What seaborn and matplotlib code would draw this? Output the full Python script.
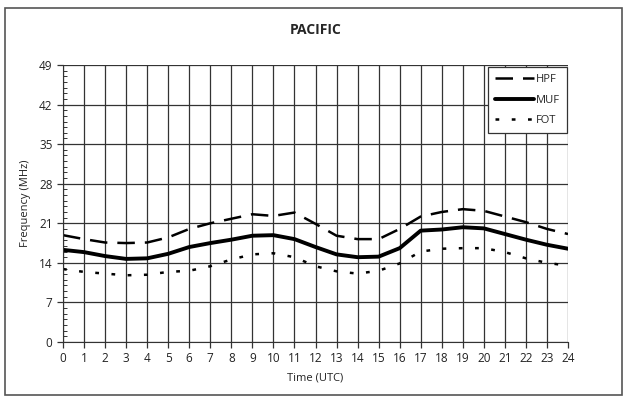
import matplotlib.pyplot as plt
from matplotlib.patches import Rectangle
import numpy as np
import pandas as pd
import seaborn as sns

# values
hours = list(range(25))
hpf = [18.9, 18.2, 17.6, 17.5, 17.6, 18.5, 20.0, 21.0, 21.8, 22.6, 22.3, 22.9, 20.9,
       18.8, 18.2, 18.2, 20.0, 22.2, 23.0, 23.5, 23.2, 22.2, 21.2, 20.0, 19.1]
muf = [16.3, 15.9, 15.2, 14.7, 14.8, 15.6, 16.8, 17.5, 18.1, 18.8, 18.9, 18.2, 16.8,
       15.5, 15.0, 15.1, 16.6, 19.7, 19.9, 20.3, 20.1, 19.1, 18.1, 17.2, 16.5]
fot = [12.9, 12.4, 12.1, 11.8, 11.9, 12.4, 12.6, 13.4, 14.6, 15.5, 15.7, 15.0, 13.4,
       12.5, 12.1, 12.6, 13.9, 16.0, 16.5, 16.6, 16.6, 15.9, 14.8, 14.0, 13.5]

sns.set_style("white")
plt.rcParams['font.family'] = ['Open Sans', 'DejaVu Sans']

fig = plt.figure(figsize=(6.28, 4.0), dpi=100)
ax = fig.add_axes([0.1003, 0.145, 0.8042, 0.6925])

df = pd.DataFrame({'Time': hours, 'HPF': hpf, 'MUF': muf, 'FOT': fot})
sns.lineplot(data=df, x='Time', y='HPF', ax=ax, color='black', lw=1.8,
             label='HPF').lines[-1].set_dashes([7, 4])
sns.lineplot(data=df, x='Time', y='MUF', ax=ax, color='black', lw=2.8, label='MUF')
sns.lineplot(data=df, x='Time', y='FOT', ax=ax, color='black', lw=1.8,
             label='FOT').lines[-1].set_dashes([1.5, 5])

ax.set_xlim(0, 24)
ax.set_ylim(0, 49)
ax.set_xticks(range(0, 25))
ax.set_yticks(range(0, 50, 7))
ax.set_yticks(range(0, 50), minor=True)
ax.grid(True, which='major', color='#333333', lw=0.9)
ax.set_axisbelow(True)
for s in ['top', 'right']:
    ax.spines[s].set_visible(False)
for s in ['left', 'bottom']:
    ax.spines[s].set_color('#333333')
ax.tick_params(axis='both', which='major', direction='out', length=4, width=0.9,
               color='#333333', labelsize=8.5, labelcolor='#222222', bottom=True, left=True)
ax.tick_params(axis='y', which='minor', direction='in', length=3, width=0.7,
               color='#333333', left=True)
ax.set_xlabel('Time (UTC)', fontsize=8, color='#222222', labelpad=5)
ax.set_ylabel('Frequency (MHz)', fontsize=8, color='#222222', labelpad=6)
ax.set_title('PACIFIC', fontsize=10, fontweight='bold', pad=22)

leg = ax.legend(loc='upper right', bbox_to_anchor=(1.0, 0.995), frameon=True,
                fancybox=False, fontsize=8, handlelength=3.5, handletextpad=0.2,
                borderpad=0.6, labelspacing=0.85, borderaxespad=0.1)
leg.get_frame().set_edgecolor('#333333')
leg.get_frame().set_linewidth(0.9)
leg.get_frame().set_alpha(1)

fig.patches.append(Rectangle((5 / 628, 5 / 400), 617 / 628, 387 / 400,
                             transform=fig.transFigure, fill=False,
                             edgecolor='#555555', lw=1.2))

fig.savefig('out.png', dpi=100)
